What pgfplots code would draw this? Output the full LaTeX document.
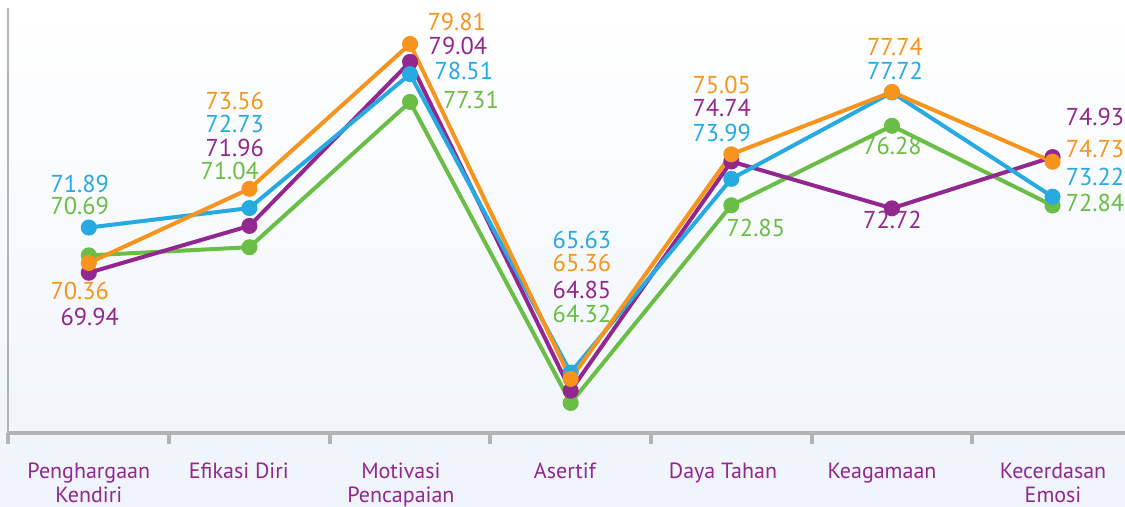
\documentclass[border=0pt]{standalone}
\usepackage{fontspec}
\setmainfont{PT Sans}
\usepackage{pgfplots}
\pgfplotsset{compat=1.18}

\definecolor{cOrange}{HTML}{F7941D}
\definecolor{cPurple}{HTML}{92278F}
\definecolor{cBlue}{HTML}{27AAE1}
\definecolor{cGreen}{HTML}{6ABD45}
\definecolor{axisgray}{HTML}{B3B3B3}
\definecolor{bgblue}{HTML}{EEF4FA}

% 1 px of the reference = 0.5pt
\begin{document}
\begin{tikzpicture}[vlbl/.style={font=\fontsize{12.2}{12.2}\selectfont, inner sep=0pt, anchor=center}]
  \shade[top color=white, bottom color=bgblue, use as bounding box]
    (0,0) rectangle (562.5pt,253.5pt);

  \begin{axis}[
    at={(4.25pt,37pt)}, anchor=south west,
    scale only axis,
    width=558.25pt, height=212.5pt,
    xmin=-0.5, xmax=6.451,
    ymin=63.025, ymax=81.363,
    axis lines*=left,
    x axis line style={line width=2pt, color=axisgray},
    y axis line style={line width=1pt, color=axisgray},
    ytick=\empty,
    xtick={0,0.934,1.943,2.964,3.948,4.938,6.003},
    xticklabels={{\strut Penghargaan\\Kendiri},{\strut Efikasi Diri},{\strut Motivasi\\Pencapaian},{\strut Asertif},{\strut Daya Tahan},{\strut Keagamaan},{\strut Kecerdasan\\Emosi}},
    major tick length=0pt,
    minor xtick={-0.5,0.5,1.5,2.5,3.5,4.5,5.5},
    minor tick length=5.5pt,
    tick align=outside,
    minor tick style={line width=2pt, color=axisgray},
    xticklabel style={font=\fontsize{11}{12.25}\selectfont, text=cPurple,
      align=center, anchor=north, inner sep=0pt, yshift=-13.9pt},
    clip=false,
    every axis plot/.append style={line width=2pt, mark=*, mark size=3pt},
  ]
    % green
    \addplot[color=cGreen, mark options={fill=cGreen}] coordinates {
      (0,70.69) (1,71.04) (2,77.31) (3,64.32) (4,72.85) (5,76.28) (6,72.84)};
    % purple
    \addplot[color=cPurple, mark options={fill=cPurple}] coordinates {
      (0,69.94) (1,71.96) (2,79.04) (3,64.85) (4,74.74) (5,72.72) (6,74.93)};
    % blue
    \addplot[color=cBlue, mark options={fill=cBlue}] coordinates {
      (0,71.89) (1,72.73) (2,78.51) (3,65.63) (4,73.99) (5,77.72) (6,73.22)};
    % orange
    \addplot[color=cOrange, mark options={fill=cOrange}] coordinates {
      (0,70.36) (1,73.56) (2,79.81) (3,65.36) (4,75.05) (5,77.74) (6,74.73)};

    % value labels
    \node[vlbl, cBlue]   at (axis cs:-0.056,73.77) {71.89};
    \node[vlbl, cGreen]  at (axis cs:-0.056,72.82) {70.69};
    \node[vlbl, cOrange] at (axis cs:-0.056,69.15) {70.36};
    \node[vlbl, cPurple] at (axis cs:0.006,68.03) {69.94};

    \node[vlbl, cOrange] at (axis cs:0.909,77.36) {73.56};
    \node[vlbl, cBlue]   at (axis cs:0.909,76.36) {72.73};
    \node[vlbl, cPurple] at (axis cs:0.909,75.33) {71.96};
    \node[vlbl, cGreen]  at (axis cs:0.878,74.33) {71.04};

    \node[vlbl, cOrange] at (axis cs:2.291,80.76) {79.81};
    \node[vlbl, cPurple] at (axis cs:2.298,79.72) {79.04};
    \node[vlbl, cBlue]   at (axis cs:2.335,78.64) {78.51};
    \node[vlbl, cGreen]  at (axis cs:2.379,77.39) {77.31};

    \node[vlbl, cBlue]   at (axis cs:3.070,71.37) {65.63};
    \node[vlbl, cOrange] at (axis cs:3.070,70.36) {65.36};
    \node[vlbl, cPurple] at (axis cs:3.070,69.20) {64.85};
    \node[vlbl, cGreen]  at (axis cs:3.070,68.16) {64.32};

    \node[vlbl, cOrange] at (axis cs:3.941,78.06) {75.05};
    \node[vlbl, cPurple] at (axis cs:3.941,77.04) {74.74};
    \node[vlbl, cBlue]   at (axis cs:3.941,75.97) {73.99};
    \node[vlbl, cGreen]  at (axis cs:4.153,71.89) {72.85};

    \node[vlbl, cOrange] at (axis cs:5.019,79.68) {77.74};
    \node[vlbl, cBlue]   at (axis cs:5.019,78.64) {77.72};
    \node[vlbl, cGreen]  at (axis cs:5.003,75.41) {76.28};
    \node[vlbl, cPurple] at (axis cs:5.003,72.22) {72.72};

    \node[vlbl, cPurple] at (axis cs:6.264,76.64) {74.93};
    \node[vlbl, cOrange] at (axis cs:6.264,75.28) {74.73};
    \node[vlbl, cBlue]   at (axis cs:6.264,74.07) {73.22};
    \node[vlbl, cGreen]  at (axis cs:6.264,72.95) {72.84};
  \end{axis}
\end{tikzpicture}
\end{document}
